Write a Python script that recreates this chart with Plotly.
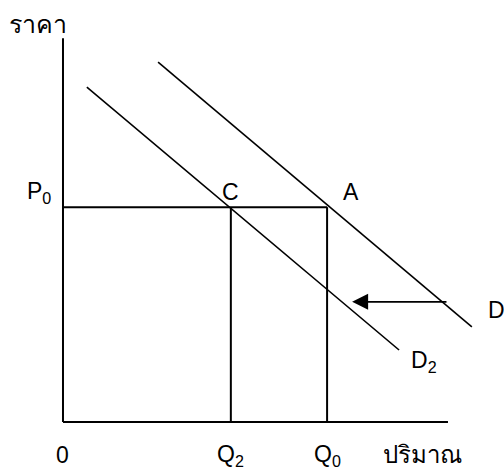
import plotly.graph_objects as go

# economic quantities (axis units)
q_axis_max = 10.0
p_axis_max = 9.97
P0 = 5.58
Q0 = 6.86
Q2 = 4.36
d1_q = [2.47, 10.62]
d1_p = [9.35, 2.47]
d2_q = [0.62, 8.73]
d2_p = [8.70, 1.87]
shift_q = [10.0, 7.51]
shift_p = 3.12

FONT = "Liberation Sans, Arial, sans-serif"
BLACK = "#000000"

fig = go.Figure()

def seg(xs, ys, w):
    fig.add_trace(go.Scatter(x=xs, y=ys, mode="lines",
                             line=dict(color=BLACK, width=w),
                             hoverinfo="skip", showlegend=False))

# axes
seg([0, 0], [p_axis_max, 0], 2)
seg([0, q_axis_max], [0, 0], 2)
# P0 line and verticals
seg([0, Q0], [P0, P0], 2)
seg([Q2, Q2], [P0, 0], 2)
seg([Q0, Q0], [P0, 0], 2)
# demand curves
seg(d1_q, d1_p, 1.6)
seg(d2_q, d2_p, 1.6)

fig.add_annotation(x=shift_q[1], y=shift_p, ax=shift_q[0], ay=shift_p,
                   xref="x", yref="y", axref="x", ayref="y",
                   showarrow=True, arrowhead=2, arrowsize=2, arrowwidth=1.6,
                   arrowcolor=BLACK, text="")

def label(text, x, y, xanchor="center", size=23):
    fig.add_annotation(x=x, y=y, text=text, showarrow=False, xref="x", yref="y",
                       xanchor=xanchor, yanchor="middle",
                       font=dict(family=FONT, size=size, color=BLACK))

label("ราคา", -0.65, 10.34, size=25)
label("P<sub>0</sub>", -0.62, 5.97)
label("C", Q2, 5.97)
label("A", 7.48, 5.97)
label("D<sub>1</sub>", 10.98, 2.86, xanchor="left")
label("D<sub>2</sub>", 9.38, 1.58)
label("0", 0, -0.86)
label("Q<sub>2</sub>", Q2, -0.86)
label("Q<sub>0</sub>", Q0, -0.86)
label("ปริมาณ", 9.35, -0.84, size=24)

fig.update_layout(
    width=504, height=470,
    margin=dict(l=0, r=0, t=0, b=0),
    paper_bgcolor="white", plot_bgcolor="white",
    xaxis=dict(range=[-1.636, 11.455], visible=False, fixedrange=True),
    yaxis=dict(range=[-1.247, 10.961], visible=False, fixedrange=True),
    showlegend=False,
)

fig.write_html("out.html", config={"displayModeBar": False},
               post_script="document.body.style.margin='0';document.body.style.overflow='hidden';")
